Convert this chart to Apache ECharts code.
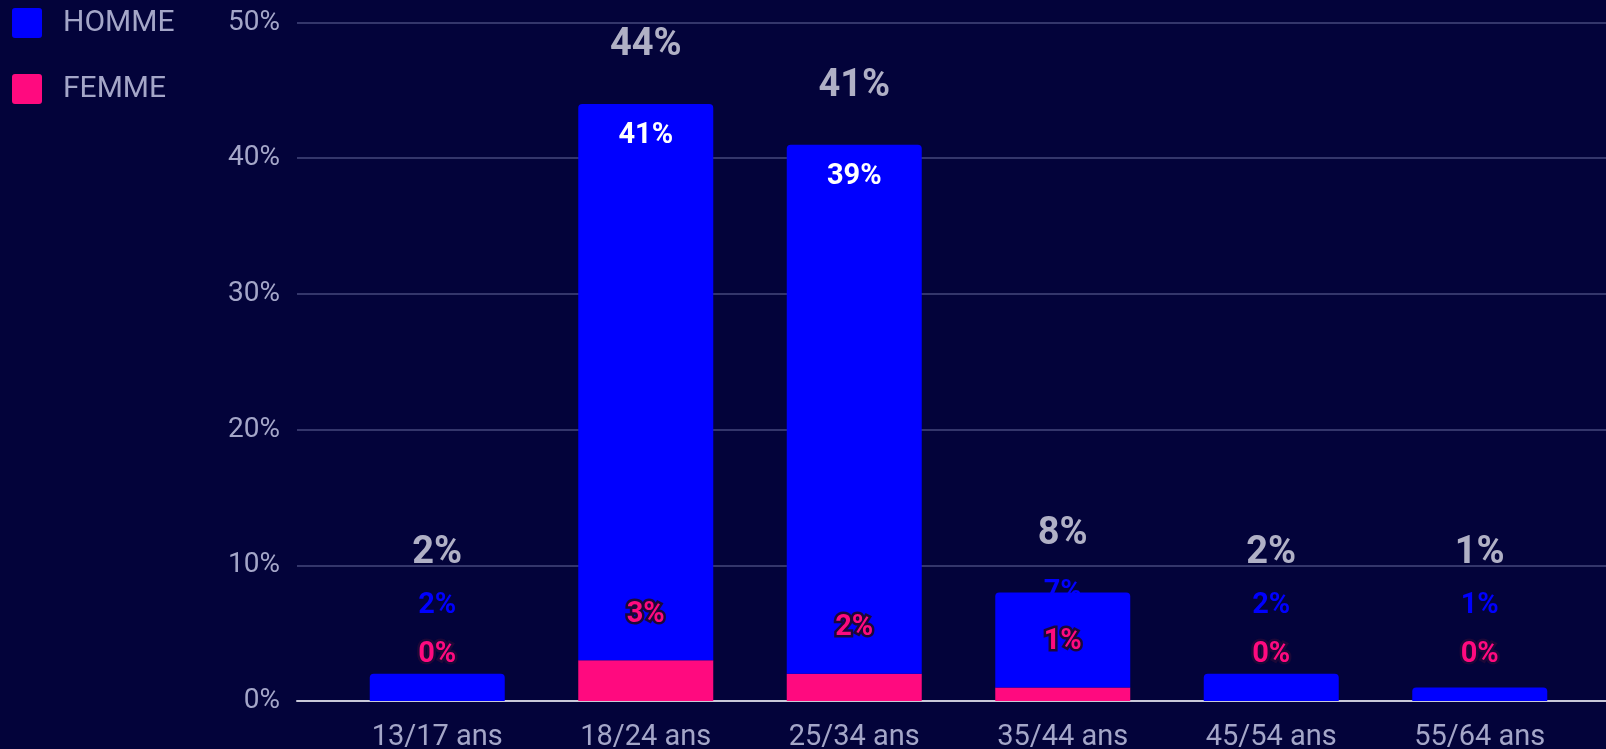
<!DOCTYPE html>
<html>
<head>
<meta charset="utf-8">
<script src="https://cdn.jsdelivr.net/npm/echarts@6/dist/echarts.min.js"></script>
<style>
html,body{margin:0;padding:0;background:#03033a;}
#c{width:1606px;height:749px;}
</style>
</head>
<body>
<div id="c"></div>
<script>
const categories = ['13/17 ans','18/24 ans','25/34 ans','35/44 ans','45/54 ans','55/64 ans'];
const homme = [2, 41, 39, 7, 2, 1];
const femme = [0, 3, 2, 1, 0, 0];
const totals = [2, 44, 41, 8, 2, 1];
const yTicks = [0, 10, 20, 30, 40, 50];

const BLUE = '#0000ff', PINK = '#ff0a7f', TXT = '#a4a6c8', FONT = 'Roboto';

const chart = echarts.init(document.getElementById('c'), null, {renderer: 'canvas'});

const baseOption = {
  backgroundColor: '#03033a',
  animation: false,
  legend: {
    orient: 'vertical', left: 12, top: 8, padding: 0,
    itemWidth: 30, itemHeight: 30, itemGap: 36,
    icon: 'path://M3,0 L27,0 Q30,0 30,3 L30,27 Q30,30 27,30 L3,30 Q0,30 0,27 L0,3 Q0,0 3,0 Z',
    textStyle: {color: TXT, fontSize: 30, fontFamily: FONT, padding: [0, 0, 0, 16]},
    data: ['HOMME', 'FEMME']
  },
  grid: [
    {left: 297, right: 0, top: 22.5, bottom: 48, outerBoundsMode: 'none', containLabel: false},
    {left: 333, right: 22, top: 22.5, bottom: 48, outerBoundsMode: 'none', containLabel: false}
  ],
  xAxis: [
    {gridIndex: 0, type: 'category', data: categories,
     axisLine: {lineStyle: {color: '#c9c9d9', width: 2}}, axisTick: {show: false}, axisLabel: {show: false}},
    {gridIndex: 1, type: 'category', data: categories,
     axisLine: {show: false}, axisTick: {show: false},
     axisLabel: {color: TXT, fontSize: 29, fontFamily: FONT, margin: 22}}
  ],
  yAxis: [
    {gridIndex: 0, type: 'value', min: yTicks[0], max: yTicks[yTicks.length - 1], interval: 10,
     axisLine: {show: false}, axisTick: {show: false},
     splitLine: {lineStyle: {color: '#46487c', width: 1.5}},
     axisLabel: {color: TXT, fontSize: 28, fontFamily: FONT, margin: 17, padding: [3, 0, 0, 0], formatter: v => v + '%'}},
    {gridIndex: 1, type: 'value', min: yTicks[0], max: yTicks[yTicks.length - 1], interval: 10, show: false}
  ],
  series: [
    {name: 'FEMME', type: 'bar', stack: 's', xAxisIndex: 1, yAxisIndex: 1, barWidth: 135,
     itemStyle: {color: PINK}, data: femme.slice()},
    {name: 'HOMME', type: 'bar', stack: 's', xAxisIndex: 1, yAxisIndex: 1, barWidth: 135,
     itemStyle: {color: BLUE, borderRadius: [4, 4, 0, 0]}, data: homme.slice()},
    {name: 'total', type: 'scatter', xAxisIndex: 1, yAxisIndex: 1, symbolSize: 0, silent: true,
     data: totals.slice()}
  ]
};
chart.setOption(baseOption);

const px = v => chart.convertToPixel({yAxisIndex: 1}, v);
const y0 = px(0);
const femData = [], homData = [], totData = [];
for (let i = 0; i < categories.length; i++) {
  const yF = px(femme[i]);
  const yT = px(homme[i] + femme[i]);
  const pinkDesired = yF - 46;
  femData.push({value: femme[i], label: {
    show: true, position: 'inside', offset: [0, pinkDesired - (yF + y0) / 2],
    formatter: femme[i] + '%', color: PINK, fontSize: 29, fontWeight: 'bold', fontFamily: FONT,
    textBorderColor: '#1c0838', textBorderWidth: 5}});
  const blueDesired = Math.min(yT + 32, pinkDesired - 49);
  const inside = blueDesired > yT + 5;
  homData.push({value: homme[i], label: {
    show: true, position: 'inside', offset: [0, blueDesired - (yT + yF) / 2],
    formatter: homme[i] + '%', color: inside ? '#ffffff' : BLUE, fontSize: 29, fontWeight: 'bold', fontFamily: FONT}});
  const totDesired = Math.min(yT - 58, blueDesired - 53);
  totData.push({value: totals[i], label: {
    show: true, position: 'inside', offset: [0, totDesired - yT],
    formatter: totals[i] + '%', color: '#dcdce8', fontSize: 38, fontWeight: 'bold', fontFamily: FONT}});
}
chart.setOption({series: [{data: femData}, {data: homData}, {data: totData}]});
</script>
</body>
</html>
